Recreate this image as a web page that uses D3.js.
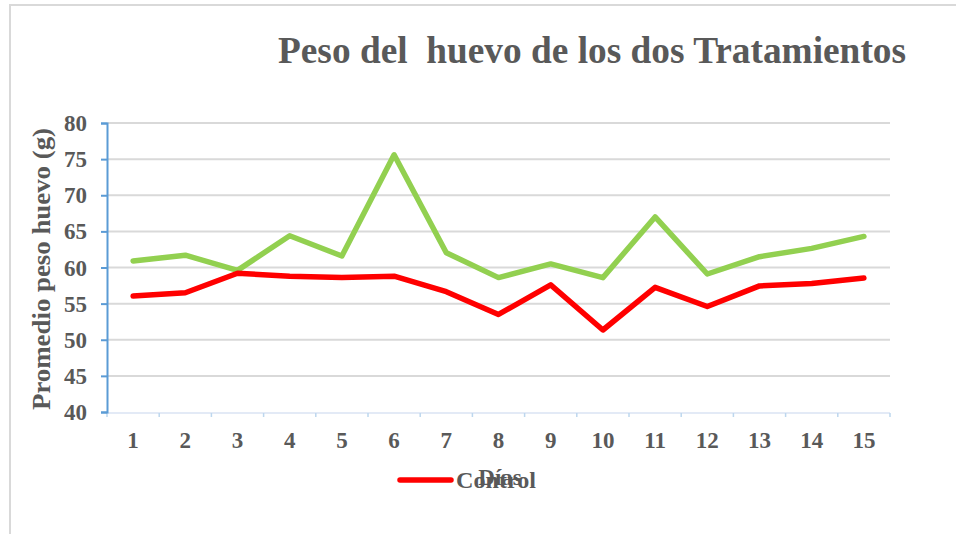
<!DOCTYPE html>
<html>
<head>
<meta charset="utf-8">
<script src="https://cdn.jsdelivr.net/npm/d3@7"></script>
<style>
    body { margin: 0; background: #fff; }
    svg text { font-family: "Liberation Serif", "Times New Roman", serif; font-weight: bold; fill: #595959; }
</style>
</head>
<body>
<svg id="chart" width="956" height="534"></svg>
<script>
// Data
const days = ['1', '2', '3', '4', '5', '6', '7', '8', '9', '10', '11', '12', '13', '14', '15'];
const control = [56.05, 56.5, 59.2, 58.8, 58.6, 58.8, 56.65, 53.5, 57.6, 51.35, 57.25, 54.6, 57.45, 57.8, 58.55];
const tratamiento = [60.9, 61.7, 59.6, 64.4, 61.6, 75.6, 62.05, 58.6, 60.5, 58.6, 67.0, 59.1, 61.5, 62.65, 64.3];
const yTicks = [40, 45, 50, 55, 60, 65, 70, 75, 80];

const svg = d3.select('#chart');

// Chart frame
svg.append('path')
    .attr('d', 'M10,534 V5 H956')
    .attr('fill', 'none')
    .attr('stroke', '#d9d9d9')
    .attr('stroke-width', 2);

const margin = { left: 107, right: 890, top: 123, bottom: 412 };

const x = d3.scaleBand()
    .domain(days)
    .range([margin.left, margin.right]);

const y = d3.scaleLinear()
    .domain([40, 80])
    .range([margin.bottom, margin.top]);

// Gridlines
svg.append('g')
    .selectAll('line')
    .data(yTicks.slice(1))
    .enter()
    .append('line')
    .attr('x1', margin.left)
    .attr('x2', margin.right)
    .attr('y1', d => y(d))
    .attr('y2', d => y(d))
    .attr('stroke', '#d9d9d9')
    .attr('stroke-width', 2);

// X axis (category boundaries as ticks)
const xAxis = svg.append('g');
xAxis.append('line')
    .attr('x1', margin.left)
    .attr('x2', margin.right)
    .attr('y1', margin.bottom + 1)
    .attr('y2', margin.bottom + 1)
    .attr('stroke', '#dae3f3')
    .attr('stroke-width', 1.5);
const bounds = days.map(d => x(d)).concat([margin.right]);
xAxis.selectAll('.xt')
    .data(bounds)
    .enter()
    .append('line')
    .attr('x1', d => d)
    .attr('x2', d => d)
    .attr('y1', margin.bottom + 1)
    .attr('y2', margin.bottom + 5)
    .attr('stroke', '#bdd7ee')
    .attr('stroke-width', 1.5);
xAxis.selectAll('text')
    .data(days)
    .enter()
    .append('text')
    .attr('x', d => x(d) + x.bandwidth() / 2)
    .attr('y', 448)
    .attr('text-anchor', 'middle')
    .style('font-size', '23px')
    .text(d => d);

// Y axis
const yAxis = svg.append('g')
    .attr('transform', `translate(${margin.left},0)`)
    .call(d3.axisLeft(y).tickValues(yTicks).tickSize(6).tickPadding(14));
yAxis.select('.domain').attr('stroke', '#5b9bd5').attr('stroke-width', 2);
yAxis.selectAll('.tick line').attr('stroke', '#5b9bd5').attr('stroke-width', 2);
yAxis.selectAll('.tick text')
    .style('font-size', '23px')
    .style('font-family', '"Liberation Serif", serif')
    .attr('fill', '#595959')
    .attr('dy', '0.33em');

// Lines
const line = d3.line()
    .x((d, i) => x(days[i]) + x.bandwidth() / 2)
    .y(d => y(d));

svg.append('path')
    .datum(tratamiento)
    .attr('d', line)
    .attr('fill', 'none')
    .attr('stroke', '#92d050')
    .attr('stroke-width', 5.5)
    .attr('stroke-linecap', 'round')
    .attr('stroke-linejoin', 'round');

svg.append('path')
    .datum(control)
    .attr('d', line)
    .attr('fill', 'none')
    .attr('stroke', '#ff0000')
    .attr('stroke-width', 5.5)
    .attr('stroke-linecap', 'round')
    .attr('stroke-linejoin', 'round');

// Title
svg.append('text')
    .attr('x', 278)
    .attr('y', 63)
    .attr('textLength', 628)
    .attr('lengthAdjust', 'spacingAndGlyphs')
    .style('font-size', '38px')
    .style('white-space', 'pre')
    .text('Peso del  huevo de los dos Tratamientos');

// Y axis title
svg.append('text')
    .attr('transform', 'translate(50,269) rotate(-90)')
    .attr('text-anchor', 'middle')
    .attr('textLength', 282)
    .attr('lengthAdjust', 'spacingAndGlyphs')
    .style('font-size', '26px')
    .text('Promedio peso huevo (g)');

// X axis title
svg.append('text')
    .attr('x', 500)
    .attr('y', 485)
    .attr('text-anchor', 'middle')
    .style('font-size', '23px')
    .text('Días');

// Legend (only Control visible)
svg.append('line')
    .attr('x1', 400)
    .attr('x2', 451)
    .attr('y1', 480)
    .attr('y2', 480)
    .attr('stroke', '#ff0000')
    .attr('stroke-width', 5.5)
    .attr('stroke-linecap', 'round');
svg.append('text')
    .attr('x', 456)
    .attr('y', 488)
    .attr('textLength', 80)
    .attr('lengthAdjust', 'spacingAndGlyphs')
    .style('font-size', '23px')
    .text('Control');
</script>
</body>
</html>
